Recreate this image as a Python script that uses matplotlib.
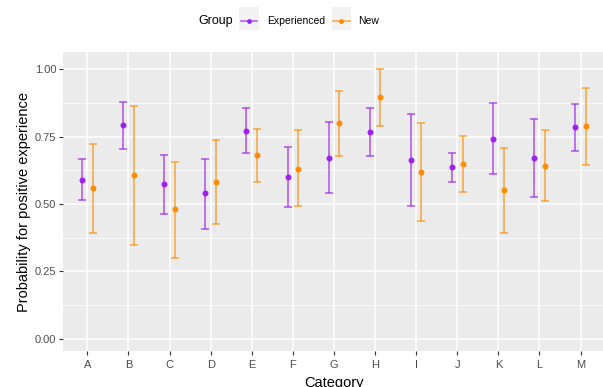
import matplotlib
matplotlib.use("Agg")
import matplotlib.pyplot as plt
import numpy as np
from matplotlib.lines import Line2D
from matplotlib.patches import Rectangle
from matplotlib.ticker import MultipleLocator

categories = list("ABCDEFGHIJKLM")
exp_mean = [0.589, 0.792, 0.573, 0.540, 0.772, 0.599, 0.672, 0.768, 0.663, 0.637, 0.742, 0.672, 0.785]
exp_low  = [0.514, 0.705, 0.462, 0.407, 0.690, 0.488, 0.540, 0.678, 0.493, 0.581, 0.611, 0.525, 0.698]
exp_high = [0.668, 0.877, 0.683, 0.668, 0.855, 0.713, 0.803, 0.855, 0.833, 0.690, 0.874, 0.814, 0.870]
new_mean = [0.558, 0.606, 0.480, 0.581, 0.682, 0.630, 0.800, 0.896, 0.619, 0.648, 0.551, 0.641, 0.788]
new_low  = [0.393, 0.349, 0.300, 0.425, 0.581, 0.491, 0.678, 0.791, 0.438, 0.543, 0.393, 0.510, 0.645]
new_high = [0.724, 0.862, 0.657, 0.736, 0.780, 0.774, 0.918, 1.001, 0.800, 0.752, 0.709, 0.774, 0.929]
yticks = [0.00, 0.25, 0.50, 0.75, 1.00]

PURPLE = "#A020F0"
ORANGE = "#FF8C00"
W, H = 603, 387
fig = plt.figure(figsize=(W/100, H/100), dpi=100)
plt.rcParams['font.family'] = ['Liberation Sans', 'DejaVu Sans']

ax_left, ax_right, ax_top, ax_bot = 62.7, 605.2, 52, 351
ax = fig.add_axes([ax_left/W, 1-ax_bot/H, (ax_right-ax_left)/W, (ax_bot-ax_top)/H])
ax.set_facecolor("#EBEBEB")
for s in ax.spines.values():
    s.set_visible(False)

x = np.arange(len(categories))
dodge = 0.13
series = [(exp_mean, exp_low, exp_high, PURPLE, -dodge),
          (new_mean, new_low, new_high, ORANGE, dodge)]
for m, lo, hi, c, off in series:
    m = np.array(m); lo = np.array(lo); hi = np.array(hi)
    ax.errorbar(x + off, m, yerr=[m - lo, hi - m], fmt='none', ecolor=c, alpha=0.7,
                elinewidth=1.2, capsize=3.0, capthick=1.2, zorder=3)
    ax.plot(x + off, m, 'o', color=c, markersize=4.3, zorder=4, markeredgewidth=0)

ax.set_xlim(-0.6, len(categories) - 0.4)
ax.set_ylim(-0.0457, 1.064)
ax.set_xticks(x)
ax.set_xticklabels(categories)
ax.set_yticks(yticks)
ax.set_yticklabels([f"{v:.2f}" for v in yticks])
ax.yaxis.set_minor_locator(MultipleLocator(0.125))
ax.grid(which='major', color='white', linewidth=1.1)
ax.grid(which='minor', axis='y', color='white', linewidth=0.55)
ax.set_axisbelow(True)
ax.tick_params(axis='both', which='major', length=2.7, width=0.8, color='#333333',
               labelcolor='#4D4D4D', labelsize=8, pad=2)
ax.tick_params(axis='x', which='major', pad=3.5)
ax.tick_params(axis='both', which='minor', length=0)

ax.set_xlabel("Category", fontsize=10.5, labelpad=4.5)
ax.set_ylabel("Probability for positive experience", fontsize=10.5, labelpad=3)

# legend (top)
fig.text(198/W, 1-21/H, "Group", fontsize=9, va='center', ha='left')
keys = [(239.3, PURPLE, "Experienced", 267), (331.7, ORANGE, "New", 358)]
for kx, c, lab, tx in keys:
    fig.add_artist(Rectangle((kx/W, 1-30/H), 19.5/W, 23/H, transform=fig.transFigure,
                             facecolor="#F2F2F2", edgecolor='none'))
    fig.add_artist(Line2D([(kx+1.5)/W, (kx+18)/W], [1-20.5/H, 1-20.5/H], transform=fig.transFigure,
                          color=c, alpha=0.7, linewidth=1.2))
    fig.add_artist(Line2D([(kx+9.75)/W], [1-20.5/H], transform=fig.transFigure,
                          color=c, marker='o', markersize=3.5, markeredgewidth=0))
    fig.text(tx/W, 1-21/H, lab, fontsize=7.5, va='center', ha='left')

fig.savefig("out.png", dpi=100)
